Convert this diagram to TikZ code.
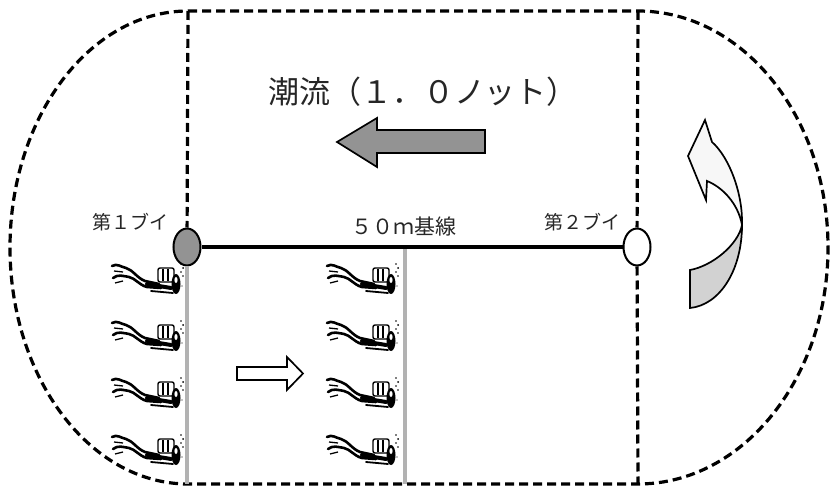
\documentclass[tikz,border=0pt]{standalone}
\usepackage{fontspec}
\setmainfont{Noto Sans CJK JP}
\usetikzlibrary{arrows.meta,positioning,shapes.geometric}

\tikzset{
  diver/.pic={
    \draw[line width=2.6pt, line cap=round, line join=round]
      (-69,-14) .. controls (-64,-17) and (-60,-13) .. (-55,-12)
      .. controls (-48,-10) and (-44,-2) .. (-36,1) -- (-22,4);
    \draw[line width=2.6pt, line cap=round, line join=round]
      (-68,-2) .. controls (-63,-6) and (-58,-4) .. (-52,-3)
      .. controls (-46,-2) and (-42,5) .. (-34,7) -- (-20,8);
    \draw[line width=1.3pt] (-67,-9) -- (-58,-8) (-66,3) -- (-58,1);
    \draw[line width=4pt, line cap=round] (-34,4) -- (-10,8);
    \draw[line width=1.8pt, line cap=round] (-30,11) -- (-8,13);
    \draw[line width=1.4pt, fill=white, rounded corners=2pt] (-23,-12) rectangle (-7,2);
    \draw[line width=1.2pt] (-18,-11) -- (-18,1) (-13,-11) -- (-13,1);
    \fill (-5,4) ellipse [x radius=4.5pt, y radius=10pt];
    \fill[white] (-5,0) ellipse [x radius=1.6pt, y radius=3pt];
    \fill (0,-16) circle (0.9pt) (2,-12) circle (1pt) (0,-8) circle (0.9pt)
          (2,-4) circle (0.8pt) (1,6) circle (0.7pt);
  }
}

\begin{document}
\begin{tikzpicture}[x=1pt, y=-1pt,
  every node/.style={font=\fontsize{19}{21}\selectfont, text=black!85},
  course/.style={dash pattern=on 9pt off 5pt, line width=3.2pt},
  lane/.style={line width=3.4pt, gray!60},
  buoy/.style={draw, ellipse, line width=2pt, inner sep=0pt,
               minimum width=27pt, minimum height=37pt},
  flow/.style={draw, line width=1.7pt, line join=miter},
]
  \useasboundingbox (0,0) rectangle (835,486);

  % course outline
  \coordinate (tl) at (188,11);
  \coordinate (tr) at (638,11);
  \coordinate (bl) at (188,484);
  \coordinate (br) at (638,484);
  \draw[course] (tl) -- (tr)
    .. controls (743,11) and (828,117) .. (828,247.5)
    .. controls (828,378) and (743,484) .. (br) -- (bl)
    .. controls (90,484) and (10,378) .. (10,247.5)
    .. controls (10,117) and (90,11) .. (tl);

  \node[buoy, fill=gray!85] (b1) at (187,247) {};
  \node[buoy, fill=white] (b2) at (637,247) {};

  \draw[course] (tl) -- (b1);
  \draw[course] (tr) -- (b2);
  \draw[course] (b2) -- (br);

  \coordinate (m1) at (405,248);
  \coordinate (m2) at (405,484);
  \coordinate (l2) at (187,484);
  \draw[lane] (b1) -- (l2);
  \draw[lane] (m1) -- (m2);
  \draw[line width=3.6pt] (b1) -- (b2);

  \node (t1) at (130,222) {第１ブイ};
  \node (t2) at (582,222) {第２ブイ};
  \node[font=\fontsize{21}{23}\selectfont] (base) at (404,227) {５０ｍ基線};
  \node[font=\fontsize{31}{34}\selectfont] (current) at (423,92) {潮流（１．０ノット）};

  \draw[flow, fill=gray!85] (337,142) -- (377,118) -- (377,130) -- (485,130)
    -- (485,153) -- (377,153) -- (377,167) -- cycle;
  \draw[flow, fill=white] (237,367) -- (287,367) -- (287,357) -- (303,373.5)
    -- (287,390) -- (287,380) -- (237,380) -- cycle;

  % turning arrow
  \draw[flow, fill=gray!35] (690,270) -- (690,308)
    .. controls (720,305) and (742,270) .. (742,225)
    .. controls (738,245) and (712,266) .. cycle;
  \draw[flow, fill=gray!6] (742,225)
    .. controls (743,195) and (730,158) .. (712,142)
    -- (705,120) -- (688,156) -- (706,200) -- (707,181)
    .. controls (722,187) and (738,203) .. cycle;

  \foreach \y in {280,337,394,451} {
    \pic at (181,\y) {diver};
    \pic at (396,\y) {diver};
  }
\end{tikzpicture}
\end{document}
